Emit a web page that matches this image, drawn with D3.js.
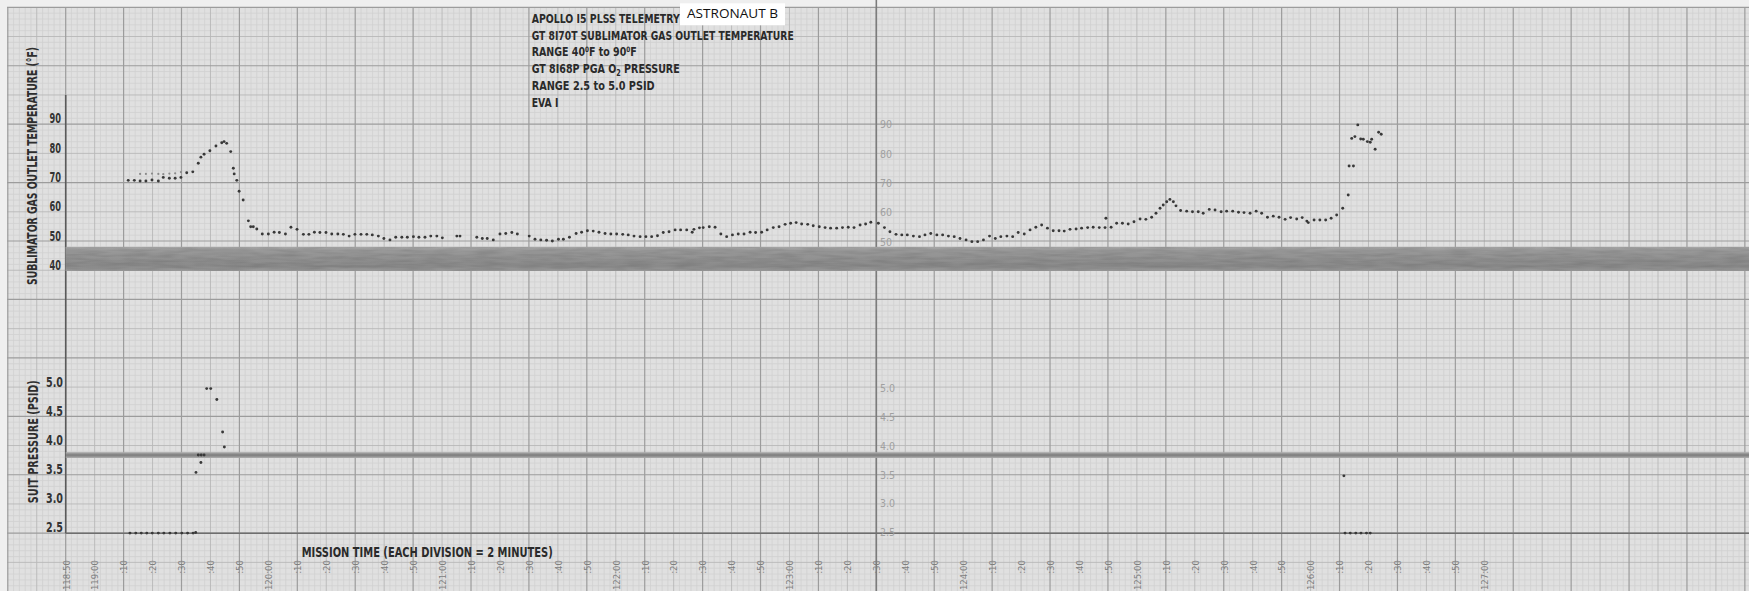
<!DOCTYPE html>
<html><head><meta charset="utf-8">
<script src="https://cdn.jsdelivr.net/npm/d3@7"></script>
<style>html,body{margin:0;padding:0;background:#f0f0f0;overflow:hidden}svg{display:block}</style>
</head><body><svg id="c" width="1749" height="591"></svg>
<script>
// ---- DATA (minutes after 118:50 GET) ----
const tempMinutes = [21.6,23.7,25.7,27.7,29.8,32.0,33.7,35.8,37.8,39.8,41.8,43.9,45.8,46.7,47.8,49.8,51.9,53.9,54.7,55.6,
57.0,57.9,58.2,59.1,59.9,61.3,63.1,63.9,64.8,66.0,67.9,70.0,72.0,73.8,75.9,77.8,79.9,82.1,84.0,85.9,
87.8,89.9,91.9,94.0,95.9,97.9,99.9,102.0,104.0,105.9,108.0,109.9,112.0,114.0,116.1,118.0,120.1,122.0,124.1,126.1,
128.2,130.1,135.1,136.2,142.0,143.9,145.6,147.7,150.0,152.0,154.1,156.0,160.1,162.1,164.1,166.1,168.1,170.2,171.9,174.0,
176.3,178.2,180.2,182.2,184.2,186.3,188.3,190.3,192.4,194.3,196.3,198.4,200.4,202.4,204.4,206.4,208.4,210.5,212.4,214.5,
216.4,217.0,218.9,220.2,222.3,224.3,226.3,228.3,230.3,232.3,234.3,236.4,238.3,240.4,242.3,244.4,246.4,248.5,250.4,252.3,
254.2,256.3,258.2,260.3,262.3,264.2,266.3,268.3,270.3,272.3,274.4,276.3,278.1,280.7,282.8,284.7,286.8,288.8,290.7,292.8,
294.9,296.8,298.8,300.9,302.9,304.9,306.9,308.9,311.0,313.0,315.0,317.0,319.1,321.1,323.0,325.1,327.1,329.0,331.1,333.1,
335.1,337.1,339.1,341.1,343.1,344.9,346.9,349.0,350.9,353.0,354.9,357.0,359.0,359.3,361.1,363.0,365.0,367.0,369.0,371.1,
373.1,375.1,376.6,378.0,379.1,380.3,381.4,382.6,383.5,385.1,387.2,389.2,391.2,392.9,395.0,397.0,399.1,401.0,403.1,405.1,
407.0,409.1,411.2,413.1,415.1,417.1,419.1,421.2,423.1,425.2,427.1,428.7,429.2,431.2,433.2,435.2,437.1,439.0,441.1,443.0,
443.3,444.8,444.2,445.3,446.3,447.3,448.2,449.6,450.6,451.1,452.3,453.5,454.4];
const tempValues = [70.9,70.9,70.7,70.7,71.0,70.7,71.9,71.6,71.6,71.9,73.5,73.8,76.7,78.8,79.8,81.0,82.6,83.7,84.1,83.5,
80.7,75.0,73.1,70.9,67.2,64.2,57.1,55.1,55.1,54.3,52.6,52.6,53.2,53.1,52.6,54.9,54.2,52.5,52.5,53.2,
53.1,53.1,52.6,52.6,52.5,51.9,52.5,52.5,52.5,52.3,51.9,51.1,50.6,51.5,51.5,51.5,51.7,51.5,51.5,51.9,
51.9,51.3,51.9,51.9,51.5,51.1,51.1,50.6,52.6,52.8,53.1,52.6,51.9,50.8,50.6,50.5,50.2,50.8,50.8,51.5,
52.8,53.2,53.7,53.6,53.2,52.8,52.6,52.6,52.5,52.3,51.9,51.7,51.7,51.7,52.0,53.1,53.4,54.0,54.0,54.0,
53.2,54.2,54.7,54.8,55.1,54.9,52.6,51.7,52.3,52.6,52.6,53.2,53.1,53.2,54.0,54.8,55.1,55.9,56.3,56.5,
56.0,55.9,55.4,55.1,54.8,54.6,54.6,54.8,54.9,54.8,55.7,56.0,56.6,56.3,54.8,53.4,52.5,52.3,52.3,51.9,
51.7,52.3,52.8,52.3,52.3,51.9,51.7,51.1,50.6,50.0,50.0,50.6,51.9,51.1,51.7,51.9,51.7,53.1,52.6,54.0,
54.9,55.7,54.6,53.7,53.7,53.6,54.2,54.3,54.6,54.8,54.9,54.8,54.8,58.0,54.9,56.3,56.3,56.0,56.8,57.7,
57.6,58.3,59.7,61.4,62.5,63.6,64.4,63.6,62.2,60.6,60.4,60.2,60.2,59.7,61.0,60.8,60.2,60.4,60.4,60.0,
59.9,59.7,60.4,59.7,58.3,58.7,58.3,57.6,58.2,57.7,58.2,57.0,56.5,57.4,57.4,57.4,58.0,59.1,61.4,65.9,
75.8,75.8,85.2,85.8,89.8,85.0,84.9,84.1,83.9,84.9,81.5,87.3,86.6];
const tempFaintMinutes = [25.7,27.7,29.8,32.0,33.7,35.8,37.8,39.8];
const tempFaintValues  = [73.1,73.1,73.2,73.1,73.0,73.2,73.3,73.7];

const pressMinutes = [22.2,24.2,26.1,28.0,29.9,32.0,33.9,36.0,38.0,40.1,42.1,44.0,44.9,
45.0,45.8,46.7,46.8,47.8,48.7,50.1,52.2,54.2,54.8,
441.5,441.9,443.7,445.6,447.4,449.3,450.6];
const pressValues = [2.49,2.49,2.49,2.49,2.49,2.49,2.49,2.49,2.49,2.49,2.49,2.49,2.50,
3.54,3.84,3.71,3.84,3.84,4.99,4.99,4.80,4.24,3.98,
3.48,2.49,2.49,2.49,2.49,2.49,2.49];

const bandMinutes = [0, 582];
const tempBand = [40.0, 48.2];
const pressBand = [3.79, 3.89];

const tempTicks = [40,50,60,70,80,90];
const tempTicksRight = [50,60,70,80,90];
const pressTicks = [2.5,3.0,3.5,4.0,4.5,5.0];
const timeTickMinutes = [0,10,20,30,40,50,60,70,80,90,100,110,120,130,140,150,160,170,180,190,200,210,220,230,240,
250,260,270,280,290,300,310,320,330,340,350,360,370,380,390,400,410,420,430,440,450,460,470,480,490];
const timeTickLabels = ["118:50","119:00",":10",":20",":30",":40",":50","120:00",":10",":20",":30",":40",":50",
"121:00",":10",":20",":30",":40",":50","122:00",":10",":20",":30",":40",":50","123:00",":10",":20",":30",":40",":50",
"124:00",":10",":20",":30",":40",":50","125:00",":10",":20",":30",":40",":50","126:00",":10",":20",":30",":40",":50","127:00"];

// ---- DRAWING ----
const W = 1749, H = 591;
const COND = "'Liberation Sans Narrow','DejaVu Sans Condensed','Arial Narrow',sans-serif";
const svg = d3.select("#c");
const x  = d3.scaleLinear().domain([0, 490]).range([65.7, 1484.3]);
const yT = d3.scaleLinear().domain([40, 90]).range([271, 124.3]);
const yP = d3.scaleLinear().domain([2.5, 5.0]).range([532.5, 388]);
const gy = d3.scaleLinear().domain([0, 100]).range([7.3, 591.6]);

svg.append("rect").attr("x",0).attr("y",0).attr("width",W).attr("height",H).attr("fill","#efefef");
svg.append("rect").attr("x",7).attr("y",7).attr("width",W-7).attr("height",H-7).attr("fill","#e0e0e0");

const grid = svg.append("g");
const vMin = d3.range(-20, 584, 2);
const hMin = d3.range(0, 101, 1);
const levels = [
  {v: vMin.filter(m => m % 10 !== 0), h: hMin.filter(u => u % 5 !== 0), c:"#d0d0d0", w:0.8},
  {v: vMin.filter(m => m % 10 === 0 && m % 20 !== 0), h: hMin.filter(u => u % 5 === 0 && u % 10 !== 0), c:"#b8b8b8", w:0.9},
  {v: vMin.filter(m => m % 20 === 0), h: hMin.filter(u => u % 10 === 0), c:"#9c9c9c", w:1.2}
];
levels.forEach(L => {
  grid.append("g").selectAll("line").data(L.v).join("line")
    .attr("x1", d => x(d)).attr("x2", d => x(d)).attr("y1", 7).attr("y2", H)
    .attr("stroke", L.c).attr("stroke-width", L.w);
  grid.append("g").selectAll("line").data(L.h).join("line")
    .attr("y1", d => gy(d)).attr("y2", d => gy(d)).attr("x1", 7).attr("x2", W)
    .attr("stroke", L.c).attr("stroke-width", L.w);
});

// seam and axes
svg.append("line").attr("x1", x(280)).attr("x2", x(280)).attr("y1", 0).attr("y2", H)
  .attr("stroke", "#7c7c7c").attr("stroke-width", 1.6);
svg.append("line").attr("x1", x(0)).attr("x2", x(0)).attr("y1", 95).attr("y2", gy(90))
  .attr("stroke", "#5a5a5a").attr("stroke-width", 1.6);
svg.append("line").attr("x1", x(0)).attr("x2", W).attr("y1", gy(90)).attr("y2", gy(90))
  .attr("stroke", "#6e6e6e").attr("stroke-width", 1.5);

// bands
const defs = svg.append("defs");
const tg = defs.append("linearGradient").attr("id","tb").attr("x1",0).attr("y1",0).attr("x2",0).attr("y2",1);
[[0,"#a8a8a8"],[0.15,"#999"],[0.5,"#919191"],[0.8,"#8a8a8a"],[1,"#9b9b9b"]].forEach(s =>
  tg.append("stop").attr("offset", s[0]).attr("stop-color", s[1]));
const pg = defs.append("linearGradient").attr("id","pb").attr("x1",0).attr("y1",0).attr("x2",0).attr("y2",1);
[[0,"#b0b0b0"],[0.5,"#7c7c7c"],[1,"#aaaaaa"]].forEach(s =>
  pg.append("stop").attr("offset", s[0]).attr("stop-color", s[1]));
const flt = defs.append("filter").attr("id","mottle").attr("x",0).attr("y",0).attr("width",1).attr("height",1);
flt.append("feTurbulence").attr("type","fractalNoise").attr("baseFrequency","0.04 0.35").attr("numOctaves",2).attr("seed",3).attr("result","n");
flt.append("feColorMatrix").attr("in","n").attr("type","matrix")
  .attr("values","0 0 0 0 0  0 0 0 0 0  0 0 0 0 0  0 0 0 0.35 -0.1").attr("result","na");
flt.append("feComposite").attr("in","na").attr("in2","SourceGraphic").attr("operator","atop").attr("result","nb");
flt.append("feMerge").call(m => { m.append("feMergeNode").attr("in","SourceGraphic"); m.append("feMergeNode").attr("in","nb"); });

svg.append("rect").attr("x", x(bandMinutes[0])).attr("width", x(bandMinutes[1]) - x(bandMinutes[0]))
  .attr("y", yT(tempBand[1])).attr("height", yT(tempBand[0]) - yT(tempBand[1])).attr("fill", "url(#tb)")
  .attr("filter", "url(#mottle)");
svg.append("rect").attr("x", x(bandMinutes[0])).attr("width", x(bandMinutes[1]) - x(bandMinutes[0]))
  .attr("y", yP(pressBand[1])).attr("height", yP(pressBand[0]) - yP(pressBand[1])).attr("fill", "url(#pb)");

// data dots
svg.append("g").selectAll("circle").data(d3.zip(tempFaintMinutes, tempFaintValues)).join("circle")
  .attr("cx", d => x(d[0])).attr("cy", d => yT(d[1])).attr("r", 1.1).attr("fill", "#8a8a8a");
svg.append("g").selectAll("circle").data(d3.zip(tempMinutes, tempValues)).join("circle")
  .attr("cx", d => x(d[0])).attr("cy", d => yT(d[1])).attr("r", 1.45).attr("fill", "#383838");
svg.append("g").selectAll("circle").data(d3.zip(pressMinutes, pressValues)).join("circle")
  .attr("cx", d => x(d[0])).attr("cy", d => yP(d[1])).attr("r", 1.45).attr("fill", "#383838");

// left axes labels (printed slightly above their lines)
function styleAxis(g, size, color, weight) {
  g.select(".domain").remove();
  g.selectAll("line").remove();
  g.selectAll("text").attr("font-family", COND).attr("font-size", size)
    .attr("font-weight", weight).attr("fill", color);
}
const aT = svg.append("g").attr("transform", "translate(61,-6)")
  .call(d3.axisLeft(yT).tickValues(tempTicks).tickSize(0).tickPadding(0).tickFormat(d3.format("d")));
styleAxis(aT, 14.5, "#333", "bold");
aT.selectAll("text").attr("textLength", 11.5).attr("lengthAdjust", "spacingAndGlyphs");
const aP = svg.append("g").attr("transform", "translate(63,-6)")
  .call(d3.axisLeft(yP).tickValues(pressTicks).tickSize(0).tickPadding(0).tickFormat(d3.format(".1f")));
styleAxis(aP, 14.5, "#333", "bold");
aP.selectAll("text").attr("textLength", 17).attr("lengthAdjust", "spacingAndGlyphs");

// faint right-photo labels
const rT = svg.append("g").attr("transform", "translate(880,0)")
  .call(d3.axisRight(yT).tickValues(tempTicksRight).tickSize(0).tickPadding(0).tickFormat(d3.format("d")));
styleAxis(rT, 10.5, "#a0a0a0", "normal");
const rP = svg.append("g").attr("transform", "translate(880,0)")
  .call(d3.axisRight(yP).tickValues(pressTicks).tickSize(0).tickPadding(0).tickFormat(d3.format(".1f")));
styleAxis(rP, 10.5, "#a0a0a0", "normal");

// time axis labels (rotated)
const aX = svg.append("g").attr("transform", "translate(0,560)")
  .call(d3.axisBottom(x).tickValues(timeTickMinutes).tickSize(0).tickFormat((d, i) => timeTickLabels[i]));
aX.select(".domain").remove();
aX.selectAll("text").attr("x", 0).attr("y", 0).attr("dy", "0.35em")
  .attr("transform", "rotate(-90)").style("text-anchor", "end")
  .attr("font-family", COND).attr("font-size", 9.5).attr("fill", "#7e7e7e");

// axis titles
svg.append("text").attr("transform", "translate(37.3,166) rotate(-90)")
  .attr("text-anchor", "middle").attr("font-family", COND).attr("font-weight", "bold")
  .attr("font-size", 13.5).attr("fill", "#2e2e2e")
  .attr("textLength", 238).attr("lengthAdjust", "spacingAndGlyphs")
  .text("SUBLIMATOR GAS OUTLET TEMPERATURE (°F)");
svg.append("text").attr("transform", "translate(37.6,441.7) rotate(-90)")
  .attr("text-anchor", "middle").attr("font-family", COND).attr("font-weight", "bold")
  .attr("font-size", 13.5).attr("fill", "#2e2e2e")
  .attr("textLength", 123).attr("lengthAdjust", "spacingAndGlyphs")
  .text("SUIT PRESSURE (PSID)");

svg.append("text").attr("x", 301.7).attr("y", 556.7)
  .attr("font-family", COND).attr("font-weight", "bold").attr("font-size", 13.5).attr("fill", "#2a2a2a")
  .attr("textLength", 251).attr("lengthAdjust", "spacingAndGlyphs")
  .text("MISSION TIME (EACH DIVISION = 2 MINUTES)");

// title block
const tb = svg.append("g").attr("font-family", COND).attr("font-weight", "bold")
  .attr("font-size", 12.5).attr("fill", "#2a2a2a");
function tline(yb, len, parts) {
  const t = tb.append("text").attr("x", 531.7).attr("y", yb)
    .attr("textLength", len).attr("lengthAdjust", "spacingAndGlyphs");
  parts.forEach(p => {
    const s = t.append("tspan").text(p[0]);
    if (p[1] === "sup") s.attr("font-size", 7.5).attr("dy", -4);
    if (p[1] === "down") s.attr("dy", 4);
    if (p[1] === "sub") s.attr("font-size", 8.5).attr("dy", 3);
    if (p[1] === "up") s.attr("dy", -3);
  });
}
tline(22.8, 148, [["APOLLO I5 PLSS TELEMETRY"]]);
tline(39.5, 262, [["GT 8I70T SUBLIMATOR GAS OUTLET TEMPERATURE"]]);
tline(56.2, 105, [["RANGE 40"],["0","sup"],["F to 90","down"],["0","sup"],["F","down"]]);
tline(73.0, 148, [["GT 8I68P PGA O"],["2","sub"],[" PRESSURE","up"]]);
tline(89.8, 123, [["RANGE 2.5 to 5.0 PSID"]]);
tline(106.5, 26.7, [["EVA I"]]);

// label box
svg.append("rect").attr("x", 680).attr("y", 3.3).attr("width", 105).attr("height", 22).attr("fill", "#fff");
svg.append("text").attr("x", 732.5).attr("y", 18.2).attr("text-anchor", "middle")
  .attr("font-family", "'Open Sans','Noto Sans',sans-serif").attr("font-size", 13).attr("fill", "#111")
  .attr("textLength", 91).attr("lengthAdjust", "spacingAndGlyphs").text("ASTRONAUT B");
</script></body></html>
